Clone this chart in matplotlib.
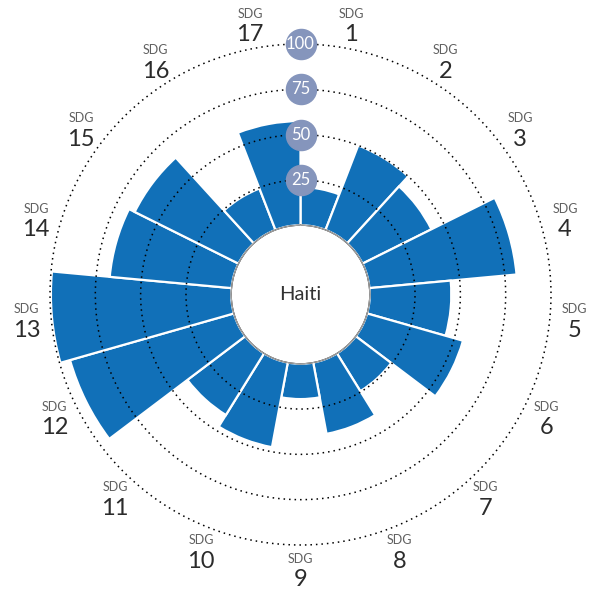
import numpy as np
import matplotlib.pyplot as plt

goals = [str(i) for i in range(1, 18)]
scores = [21, 50, 42.5, 81.5, 45, 55, 24.5, 40, 19.5, 47.5, 40, 94, 99.5, 67.5, 64, 24.5, 57.5]
rings = [25, 50, 75, 100]
country = 'Haiti'

plt.rcParams['font.family'] = ['Lato', 'DejaVu Sans']

fig = plt.figure(figsize=(5.98, 5.90), dpi=100)
ax = fig.add_axes([50/598, 45/590, 501/598, 501/590], projection='polar')
ax.set_theta_zero_location('N')
ax.set_theta_direction(-1)
ax.set_rorigin(-38.2)
ax.set_ylim(0, 100)

n = len(goals)
width = 2*np.pi/n
theta = np.arange(n)*width + width/2
ax.bar(theta, scores, width=width, bottom=0, color='#1170b8',
       edgecolor='white', linewidth=1.6, zorder=2)

circ = np.linspace(0, 2*np.pi, 500)
for r in rings:
    ax.plot(circ, np.full_like(circ, r), color='black', lw=1.1,
            ls=(0, (1, 2.6)), zorder=3, clip_on=False)
    ax.scatter([0], [r], s=470, color='#8595bc', zorder=5, clip_on=False)
    ax.text(0, r, str(r), ha='center', va='center', color='white',
            fontsize=12, zorder=6)

# inner hole edge
ax.plot(circ, np.zeros_like(circ), color='#aaaaaa', lw=0.8, zorder=4, clip_on=False)
ax.text(0.5, 0.5, country, transform=ax.transAxes, ha='center', va='center',
        fontsize=14.5, color='#333333')

for t, g in zip(theta, goals):
    ax.annotate('SDG', xy=(t, 113.5), xytext=(0, 10.5), textcoords='offset pixels',
                ha='center', va='center', fontsize=9, color='#606060',
                annotation_clip=False)
    ax.annotate(g, xy=(t, 113.5), xytext=(0, -10.5), textcoords='offset pixels',
                ha='center', va='center', fontsize=17, color='#2b2b2b',
                annotation_clip=False)

ax.grid(False)
ax.set_xticks([])
ax.set_yticks([])
for s in ax.spines.values():
    s.set_visible(False)

fig.savefig('out.png', dpi=100)
